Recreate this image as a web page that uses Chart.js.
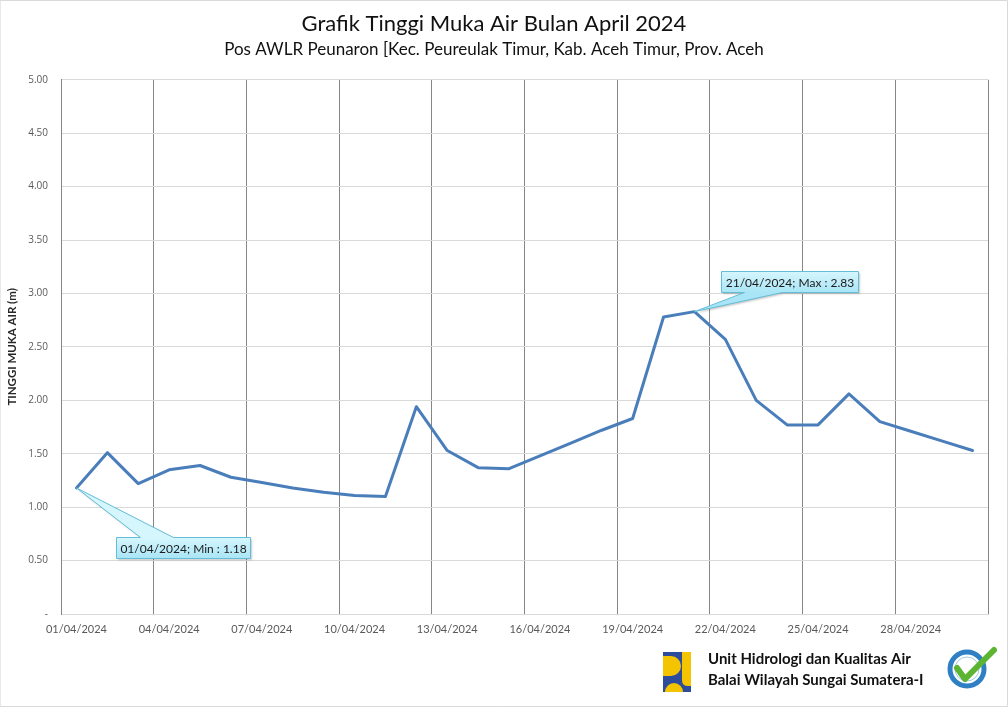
<!DOCTYPE html>
<html>
<head>
<meta charset="utf-8">
<title>Grafik Tinggi Muka Air Bulan April 2024</title>
<script src="https://cdn.jsdelivr.net/npm/chart.js@4.4.1/dist/chart.umd.min.js"></script>
<style>
  html, body { margin: 0; padding: 0; background: #fff; }
  #wrap { position: relative; width: 1008px; height: 707px; }
</style>
</head>
<body>
<div id="wrap"><canvas id="tmaChart"></canvas></div>
<script>
/* =====================================================
   Grafik TMA - Pos AWLR Peunaron, April 2024
===================================================== */

const tanggal = [
  "01/04/2024", "02/04/2024", "03/04/2024", "04/04/2024", "05/04/2024", "06/04/2024",
  "07/04/2024", "08/04/2024", "09/04/2024", "10/04/2024", "11/04/2024", "12/04/2024",
  "13/04/2024", "14/04/2024", "15/04/2024", "16/04/2024", "17/04/2024", "18/04/2024",
  "19/04/2024", "20/04/2024", "21/04/2024", "22/04/2024", "23/04/2024", "24/04/2024",
  "25/04/2024", "26/04/2024", "27/04/2024", "28/04/2024", "29/04/2024", "30/04/2024"
];

// tinggi muka air harian (m)
const tinggiMukaAir = [
  1.18, 1.51, 1.22, 1.35, 1.39, 1.28, 1.23, 1.18, 1.14, 1.11,
  1.10, 1.94, 1.53, 1.37, 1.36, 1.48, 1.60, 1.72, 1.83, 2.78,
  2.83, 2.57, 2.00, 1.77, 1.77, 2.06, 1.80, 1.71, 1.62, 1.53
];

const skalaY = [0, 5, 0.5]; // min, max, step
const judul = "Grafik Tinggi Muka Air Bulan April 2024";
const subJudul = "Pos AWLR Peunaron [Kec. Peureulak Timur, Kab. Aceh Timur, Prov. Aceh";
const judulSumbuY = "TINGGI MUKA AIR (m)";
const teksUnit = ["Unit Hidrologi dan Kualitas Air", "Balai Wilayah Sungai Sumatera-I"];

// label "Min" di grafik asli ditempel di data hari pertama
const idxMin = 0;
const idxMax = tinggiMukaAir.indexOf(Math.max(...tinggiMukaAir));

// =========================
// Callout (kotak label min / max)
// =========================
function gambarCallout(ctx, pt, box, wedge, teks) {
  const { x, y, w, h } = box;
  ctx.save();
  ctx.shadowColor = "rgba(0,0,0,0.22)";
  ctx.shadowOffsetX = 1.5;
  ctx.shadowOffsetY = 1.5;
  ctx.shadowBlur = 2;
  const g = ctx.createLinearGradient(0, y, 0, y + h);
  g.addColorStop(0, "#d6f6fd");
  g.addColorStop(1, "#a9e5f6");
  ctx.beginPath();
  ctx.moveTo(x, y);
  if (wedge.side === "top") {
    ctx.lineTo(wedge.a, y);
    ctx.lineTo(pt.x, pt.y);
    ctx.lineTo(wedge.b, y);
  }
  ctx.lineTo(x + w, y);
  ctx.lineTo(x + w, y + h);
  if (wedge.side === "bottom") {
    ctx.lineTo(wedge.b, y + h);
    ctx.lineTo(pt.x, pt.y);
    ctx.lineTo(wedge.a, y + h);
  }
  ctx.lineTo(x, y + h);
  ctx.closePath();
  ctx.fillStyle = g;
  ctx.fill();
  ctx.shadowColor = "transparent";
  ctx.strokeStyle = "#63bdd7";
  ctx.lineWidth = 1;
  ctx.stroke();

  ctx.fillStyle = "#1a1a1a";
  ctx.font = "12px Lato";
  ctx.textBaseline = "middle";
  ctx.textAlign = "center";
  ctx.fillText(teks, x + w / 2, y + h / 2 + 1);
  ctx.restore();
}

const calloutPlugin = {
  id: "calloutMinMax",
  afterDatasetsDraw(chart) {
    const ctx = chart.ctx;
    const pts = chart.getDatasetMeta(0).data;
    const pMin = pts[idxMin], pMax = pts[idxMax];

    gambarCallout(ctx, pMin,
      { x: Math.round(pMin.x + 40) + 0.5, y: Math.round(pMin.y + 49) + 0.5, w: 134, h: 21 },
      { side: "top", a: pMin.x + 64, b: pMin.x + 97 },
      tanggal[idxMin] + "; Min : " + tinggiMukaAir[idxMin].toFixed(2));

    gambarCallout(ctx, pMax,
      { x: Math.round(pMax.x + 27) + 0.5, y: Math.round(pMax.y - 41) + 0.5, w: 137, h: 21 },
      { side: "bottom", a: pMax.x + 50, b: pMax.x + 88 },
      tanggal[idxMax] + "; Max : " + tinggiMukaAir[idxMax].toFixed(2));
  }
};

// =========================
// Logo, teks unit dan bingkai
// =========================
const logoPlugin = {
  id: "logoUnit",
  afterDraw(chart) {
    const ctx = chart.ctx;
    ctx.save();

    // logo PU
    const x0 = 663, y0 = 652;
    ctx.fillStyle = "#2d4d9c";
    ctx.fillRect(x0, y0, 28, 40);
    ctx.fillStyle = "#f5c400";
    ctx.fillRect(x0, y0 + 4, 8, 20);
    ctx.beginPath();
    ctx.arc(x0 + 8, y0 + 14, 10, -Math.PI / 2, Math.PI / 2);
    ctx.fill();
    ctx.beginPath();
    ctx.moveTo(x0 + 19, y0);
    ctx.lineTo(x0 + 28, y0);
    ctx.lineTo(x0 + 28, y0 + 34);
    ctx.lineTo(x0 + 25, y0 + 34);
    ctx.quadraticCurveTo(x0 + 19, y0 + 34, x0 + 19, y0 + 28);
    ctx.closePath();
    ctx.fill();
    ctx.beginPath();
    ctx.arc(x0 + 11, y0 + 40, 9, Math.PI, 2 * Math.PI);
    ctx.fill();

    // teks unit
    ctx.fillStyle = "#111";
    ctx.font = "bold 15px Lato";
    ctx.textBaseline = "middle";
    ctx.textAlign = "left";
    ctx.fillText(teksUnit[0], 708, 659);
    ctx.fillText(teksUnit[1], 708, 680);

    // lencana ISO
    ctx.beginPath();
    ctx.arc(967, 669, 17, 0, 2 * Math.PI);
    ctx.strokeStyle = "#2f7fc4";
    ctx.lineWidth = 5;
    ctx.stroke();
    ctx.beginPath();
    ctx.arc(967, 669, 12, 0, 2 * Math.PI);
    ctx.strokeStyle = "#9cc8ea";
    ctx.lineWidth = 1;
    ctx.stroke();
    ctx.beginPath();
    ctx.moveTo(957, 668);
    ctx.lineTo(965, 679);
    ctx.lineTo(994, 650);
    ctx.strokeStyle = "#5cb532";
    ctx.lineWidth = 6;
    ctx.lineCap = "round";
    ctx.lineJoin = "round";
    ctx.stroke();

    // bingkai
    ctx.strokeStyle = "#d9d9d9";
    ctx.lineWidth = 1;
    ctx.strokeRect(0.5, 0.5, chart.width - 1, chart.height - 1);
    ctx.restore();
  }
};

// =========================
// Chart
// =========================
const chartTMA = new Chart(document.getElementById("tmaChart").getContext("2d"), {
  type: "line",
  data: {
    labels: tanggal,
    datasets: [{
      data: tinggiMukaAir,
      borderColor: "#4a7ebb",
      borderWidth: 3,
      pointRadius: 0,
      tension: 0,
      fill: false,
      borderJoinStyle: "round",
      borderCapStyle: "round"
    }]
  },
  options: {
    responsive: true,
    maintainAspectRatio: false,
    animation: false,
    events: [],
    layout: { padding: { left: 0, right: 20, top: 0, bottom: 0 } },
    plugins: {
      legend: { display: false },
      tooltip: { enabled: false },
      title: {
        display: true,
        text: judul,
        color: "#111",
        font: { family: "Lato", size: 22, weight: "normal" },
        padding: { top: 11, bottom: 0 }
      },
      subtitle: {
        display: true,
        text: subJudul,
        color: "#111",
        font: { family: "Lato", size: 17 },
        padding: { top: 2, bottom: 20 }
      }
    },
    scales: {
      x: {
        offset: true,
        grid: {
          offset: true,
          drawTicks: false,
          color: c => (c.type !== "tick" || c.index % 3 === 0) ? "#868686" : "transparent"
        },
        border: { color: "#d9d9d9" },
        ticks: {
          autoSkip: false,
          maxRotation: 0,
          minRotation: 0,
          padding: 9,
          color: "#595959",
          font: { family: "Lato", size: 11 },
          callback: function (v, i) { return i % 3 === 0 ? this.getLabelForValue(v) : ""; }
        },
        afterFit: s => { s.height = 93; }
      },
      y: {
        min: skalaY[0],
        max: skalaY[1],
        grid: { color: "#d9d9d9", drawTicks: false },
        border: { color: "#868686" },
        ticks: {
          stepSize: skalaY[2],
          padding: 13,
          color: "#595959",
          font: { family: "Open Sans", size: 10 },
          callback: v => v === 0 ? "-" : v.toFixed(2)
        },
        title: {
          display: true,
          text: judulSumbuY,
          color: "#262626",
          font: { family: "Lato", size: 11.5, weight: "bold" },
          padding: { top: 5, bottom: 0 }
        },
        afterFit: s => { s.width = 61; }
      }
    }
  },
  plugins: [calloutPlugin, logoPlugin]
});
</script>
</body>
</html>
